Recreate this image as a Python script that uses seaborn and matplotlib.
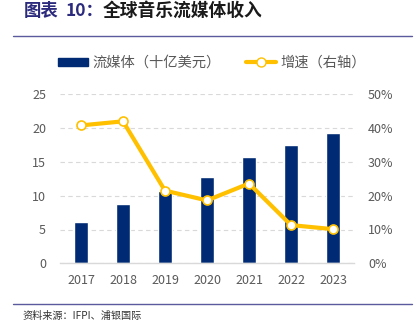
import matplotlib
matplotlib.use("Agg")
import matplotlib.pyplot as plt
import seaborn as sns
import pandas as pd
from matplotlib.ticker import FuncFormatter
from matplotlib.lines import Line2D
from matplotlib.patches import Patch

years = ["2017", "2018", "2019", "2020", "2021", "2022", "2023"]
revenue = [6.1, 8.7, 10.7, 12.7, 15.7, 17.5, 19.3]
growth = [40.8, 42.0, 21.5, 18.6, 23.6, 11.3, 10.1]
left_ticks = [0, 5, 10, 15, 20, 25]
right_ticks = [0, 10, 20, 30, 40, 50]
title_label = "图表"
title_num = "10："
title_main = "全球音乐流媒体收入"
legend_bar = "流媒体（十亿美元）"
legend_line = "增速（右轴）"
source = "资料来源：IFPI、浦银国际"

sns.set_theme(style="white")
plt.rcParams['font.family'] = ['Noto Sans CJK SC', 'DejaVu Sans']

df = pd.DataFrame({"year": years, "revenue": revenue, "growth": growth})

BAR = "#002A73"
LINE = "#FFC000"
GRAY = "#595959"
PURPLE = "#5B5A9E"
TITLE_BLUE = "#2B2A7C"

fig = plt.figure(figsize=(4.15, 3.28), dpi=100)
ax = fig.add_axes([60/415, 1-263.3/328, (354-60)/415, (263.3-94.3)/328])

sns.barplot(data=df, x="year", y="revenue", color=BAR, width=0.32, ax=ax,
            saturation=1, zorder=2)
ax.set_ylim(0, 25)
ax.set_xlim(-0.5, 6.5)
ax.set_yticks(left_ticks)
ax.grid(axis="y", color="#D9D9D9", linestyle=(0, (4, 3)), linewidth=0.8, zorder=0)
ax.set_axisbelow(True)
for s in ["top", "right", "left"]:
    ax.spines[s].set_visible(False)
ax.spines["bottom"].set_color("#D9D9D9")
ax.spines["bottom"].set_linewidth(1.0)
ax.set_xlabel("")
ax.set_ylabel("")
ax.tick_params(axis="x", colors=GRAY, labelsize=9, length=0, pad=8)
ax.tick_params(axis="y", colors=GRAY, labelsize=9, length=0, pad=10)

ax2 = ax.twinx()
sns.lineplot(data=df, x="year", y="growth", color=LINE, linewidth=3, marker="o",
             markersize=6.5, markerfacecolor="white", markeredgecolor=LINE,
             markeredgewidth=1.2, ax=ax2, zorder=3)
ax2.set_ylim(0, 50)
ax2.set_yticks(right_ticks)
ax2.yaxis.set_major_formatter(FuncFormatter(lambda v, p: f"{v:.0f}%"))
for s in ["top", "right", "left", "bottom"]:
    ax2.spines[s].set_visible(False)
ax2.set_ylabel("")
ax2.tick_params(axis="y", colors=GRAY, labelsize=9, length=0, pad=10)
ax2.grid(False)

handles = [Patch(facecolor=BAR, edgecolor=BAR),
           Line2D([0], [0], color=LINE, linewidth=3, marker="o", markersize=6.5,
                  markerfacecolor="white", markeredgecolor=LINE)]
fig.legend(handles, [legend_bar, legend_line], loc="center left", ncol=2,
           bbox_to_anchor=(55/415, 1-63/328), frameon=False, fontsize=10.3,
           labelcolor=GRAY, handlelength=2.1, handleheight=0.5, columnspacing=1.8,
           handletextpad=0.3, borderaxespad=0, borderpad=0.2)

fig.text(24/415, 1-11/328, title_label, color=TITLE_BLUE, fontsize=12.5,
         fontweight="bold", va="center", ha="left")
fig.text(66/415, 1-11/328, title_num, color=TITLE_BLUE, fontsize=12.5,
         fontweight="bold", va="center", ha="left")
fig.text(103/415, 1-11/328, title_main, color="#1A1A1A", fontsize=12.8,
         fontweight="bold", va="center", ha="left")
fig.add_artist(Line2D([13/415, 412/415], [1-36/328, 1-36/328], color=PURPLE, linewidth=1.0))
fig.add_artist(Line2D([13/415, 412/415], [1-304/328, 1-304/328], color=PURPLE, linewidth=1.0))
fig.text(22/415, 1-316/328, source, color="#333333", fontsize=7.3, va="center", ha="left")

fig.savefig("out.png", dpi=100)
